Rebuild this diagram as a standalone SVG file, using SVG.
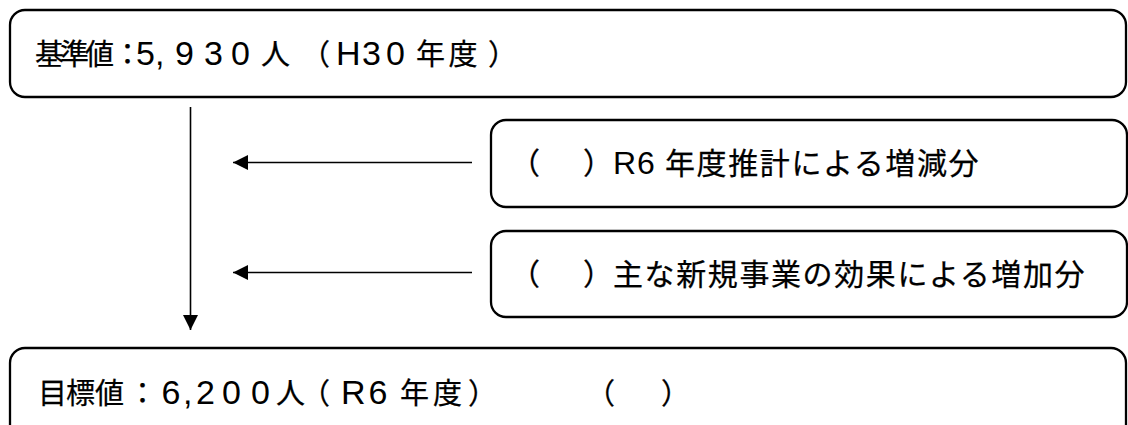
<svg xmlns="http://www.w3.org/2000/svg" width="1128" height="425" viewBox="0 0 1128 425">
<defs>
<style>
.box{fill:#fff;stroke:#000;stroke-width:2.3}
.conn{stroke:#000;stroke-width:1.6;fill:none}
text{fill:#000}
.c{font-family:"Noto Sans CJK JP","Noto Sans",sans-serif;font-size:29px;stroke:#000;stroke-width:0.25}
.m{font-family:"Noto Sans CJK JP","Noto Sans",sans-serif;font-size:30px;stroke:#000;stroke-width:0.25}
.l{font-family:"Liberation Sans",Arial,sans-serif;font-size:34px}
.lm{font-family:"Liberation Sans",Arial,sans-serif;font-size:32px}
</style>
<marker id="ah" markerUnits="userSpaceOnUse" markerWidth="16" markerHeight="16" refX="15" refY="7.5" orient="auto">
<path d="M0,0 L15,7.5 L0,15 z" fill="#000"/>
</marker>
</defs>
<rect width="1128" height="425" fill="#fff"/>
<g id="base">
<rect class="box" x="10" y="10" width="1116" height="87" rx="15"/>
<text y="65"><tspan class="c" x="35 60 85 113">基準値：</tspan><tspan class="l" x="136 155 175 204 231 250">5,930 </tspan><tspan class="c" x="261 301">人（</tspan><tspan class="l" x="336 362 386 405">H30 </tspan><tspan class="c" x="416 448.5 488">年度）</tspan></text>
</g>
<g id="estimate">
<rect class="box" x="491" y="120" width="636" height="87" rx="15"/>
<text y="174"><tspan class="m" x="510">（　</tspan><tspan class="m" x="583">）</tspan><tspan class="lm" x="613 637 655">R6 </tspan><tspan class="m" x="665" letter-spacing="1.6">年度推計による増減分</tspan></text>
</g>
<g id="newbiz">
<rect class="box" x="491" y="231" width="636" height="86" rx="15"/>
<text y="285"><tspan class="m" x="510">（　</tspan><tspan class="m" x="583">）</tspan><tspan class="m" x="613" letter-spacing="1.6">主な新規事業の効果による増加分</tspan></text>
</g>
<g id="target">
<rect class="box" x="10" y="348" width="1116" height="120" rx="15"/>
<text y="404"><tspan class="c" x="38 66 95 128">目標値：</tspan><tspan class="l" x="161.5 183 196 222 251 268">6,200 </tspan><tspan class="c" x="276 301">人（</tspan><tspan class="l" x="330 341 368.5 386">&#160;R6 </tspan><tspan class="c" x="400 433 468">年度）</tspan></text>
<text class="c" y="404" x="586 620 661">（ ）</text>
</g>
<g id="connectors">
<line class="conn" x1="190.5" y1="107" x2="190.5" y2="330" marker-end="url(#ah)"/>
<line class="conn" x1="472" y1="162.5" x2="233" y2="162.5" marker-end="url(#ah)"/>
<line class="conn" x1="472" y1="272.5" x2="233" y2="272.5" marker-end="url(#ah)"/>
</g>
</svg>
